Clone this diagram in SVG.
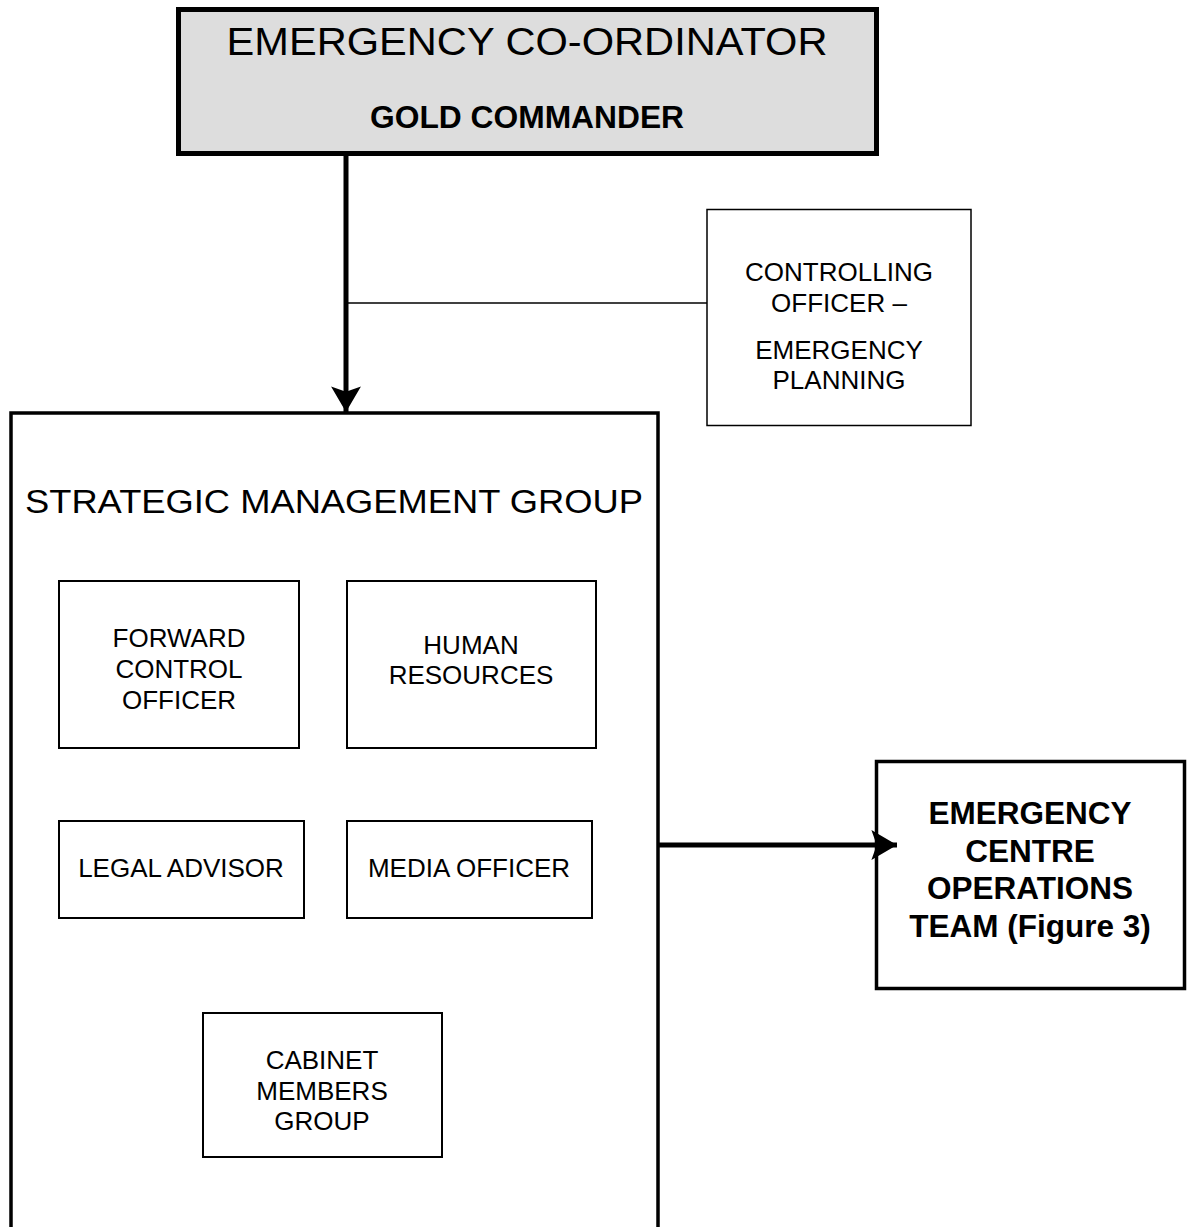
<svg xmlns="http://www.w3.org/2000/svg" width="1187" height="1227" viewBox="0 0 1187 1227">
<style>
text{font-family:"Liberation Sans",Arial,sans-serif;fill:#000;text-anchor:middle}
.b{fill:#fff;stroke:#000;stroke-width:2}
.t{font-size:26px}
.bt{font-size:31.5px;font-weight:bold}
</style>
<defs>
<marker id="ah" markerUnits="userSpaceOnUse" markerWidth="32" markerHeight="32" viewBox="0 0 30 30" refX="24" refY="15" orient="auto">
<path d="M0,1 L24,15 L0,29 L5,15 Z" fill="#000"/>
</marker>
</defs>
<rect width="1187" height="1227" fill="#fff"/>
<g id="gold">
<rect x="178.5" y="9.5" width="698" height="144" fill="#dddddd" stroke="#000" stroke-width="5"/>
<text x="527" y="55" font-size="39" textLength="601" lengthAdjust="spacingAndGlyphs">EMERGENCY CO-ORDINATOR</text>
<text x="527" y="128" font-size="32" font-weight="bold" textLength="314" lengthAdjust="spacingAndGlyphs">GOLD COMMANDER</text>
</g>
<g id="controlling">
<rect x="707" y="209.5" width="264" height="216" fill="#fff" stroke="#000" stroke-width="1.5"/>
<text class="t" x="839" y="281">CONTROLLING</text>
<text class="t" x="839" y="312">OFFICER –</text>
<text class="t" x="839" y="359">EMERGENCY</text>
<text class="t" x="839" y="389">PLANNING</text>
</g>
<g id="strategic">
<path d="M11,1240 V413 H658 V1240" fill="none" stroke="#000" stroke-width="3.5"/>
<text x="334" y="513" font-size="34" textLength="618" lengthAdjust="spacingAndGlyphs">STRATEGIC MANAGEMENT GROUP</text>
</g>
<g id="forward">
<rect class="b" x="59" y="581" width="240" height="167"/>
<text class="t" x="179" y="647">FORWARD</text>
<text class="t" x="179" y="678">CONTROL</text>
<text class="t" x="179" y="709">OFFICER</text>
</g>
<g id="hr">
<rect class="b" x="347" y="581" width="249" height="167"/>
<text class="t" x="471" y="654">HUMAN</text>
<text class="t" x="471" y="684">RESOURCES</text>
</g>
<g id="legal">
<rect class="b" x="59" y="821" width="245" height="97"/>
<text class="t" x="181" y="877">LEGAL ADVISOR</text>
</g>
<g id="media">
<rect class="b" x="347" y="821" width="245" height="97"/>
<text class="t" x="469" y="877">MEDIA OFFICER</text>
</g>
<g id="cabinet">
<rect class="b" x="203" y="1013" width="239" height="144"/>
<text class="t" x="322" y="1069">CABINET</text>
<text class="t" x="322" y="1100">MEMBERS</text>
<text class="t" x="322" y="1130">GROUP</text>
</g>
<g id="ecot">
<rect x="876.5" y="761.5" width="308" height="227" fill="#fff" stroke="#000" stroke-width="3.5"/>
<text class="bt" x="1030" y="824">EMERGENCY</text>
<text class="bt" x="1030" y="862">CENTRE</text>
<text class="bt" x="1030" y="899">OPERATIONS</text>
<text class="bt" x="1030" y="937">TEAM (Figure 3)</text>
</g>
<g id="connectors">
<line x1="346" y1="155" x2="346" y2="412" stroke="#000" stroke-width="5" marker-end="url(#ah)"/>
<line x1="348" y1="303" x2="707" y2="303" stroke="#000" stroke-width="1.5"/>
<line x1="659" y1="845" x2="897" y2="845" stroke="#000" stroke-width="5" marker-end="url(#ah)"/>
</g>
</svg>
